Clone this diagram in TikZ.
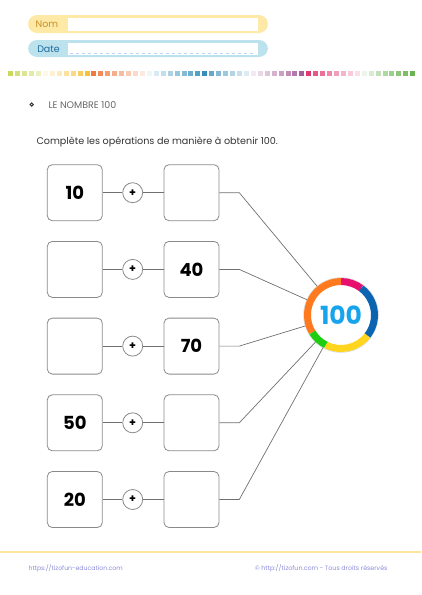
\documentclass[tikz,border=0pt]{standalone}
\usepackage{fontspec}
\setmainfont{Poppins}
\definecolor{boxgray}{HTML}{8A8A8A}
\definecolor{linegray}{HTML}{707070}
\definecolor{nomfill}{HTML}{FFE9A6}
\definecolor{nomtext}{HTML}{C89028}
\definecolor{datefill}{HTML}{BCE2EE}
\definecolor{datetext}{HTML}{1C6C9C}
\definecolor{footline}{HTML}{FFE49C}
\definecolor{foottext}{HTML}{8C8CD8}
\definecolor{ringpink}{HTML}{E8106E}
\definecolor{ringblue}{HTML}{0A64B0}
\definecolor{ringyellow}{HTML}{FFD51E}
\definecolor{ringgreen}{HTML}{1ECC10}
\definecolor{ringorange}{HTML}{FF7A1E}
\definecolor{hundredblue}{HTML}{18A4EC}
\definecolor{sqlime}{HTML}{B8CC28}
\definecolor{sqgold}{HTML}{F8B820}
\definecolor{sqorange}{HTML}{EE6A2A}
\definecolor{sqblue}{HTML}{2A88B8}
\definecolor{sqpurple}{HTML}{9A4A8C}
\definecolor{sqpink}{HTML}{E02868}
\definecolor{sqgreen}{HTML}{58AC3C}

\begin{document}
\begin{tikzpicture}[x=1pt, y=-1pt,
    numbox/.style={draw=boxgray, line width=0.8pt, rounded corners=5pt,
      minimum width=55pt, minimum height=56pt,
      font=\bfseries\fontsize{18}{18}\selectfont},
    plusdot/.style={circle, draw=boxgray, line width=0.8pt, minimum size=20pt,
      inner sep=0pt, font=\bfseries\fontsize{11}{11}\selectfont},
    link/.style={draw=linegray, line width=0.7pt}]
  \useasboundingbox (0,0) rectangle (421,595);

  % Name and date fields
  \fill[nomfill, rounded corners=9pt] (28,15) rectangle (268,33);
  \fill[white] (68,18) rectangle (258,31);
  \node[text=nomtext, font=\fontsize{9.5}{9.5}\selectfont] (nom) at (47,24.5) {Nom};
  \fill[datefill, rounded corners=9pt] (28,40) rectangle (268,57);
  \fill[white] (68,42.5) rectangle (258,54.5);
  \draw[datefill!80!blue!60, dashed, line width=0.4pt] (70,53) -- (256,53);
  \node[text=datetext, font=\fontsize{9.5}{9.5}\selectfont] (date) at (48.5,49) {Date};

  % Row of coloured squares
  \foreach \c [count=\i from 0] in {sqlime!75, sqlime!62, sqlime!50, sqlime!40, sqlime!30,
      sqgold!10, sqgold!20, sqgold!30, sqgold!42, sqgold!55, sqgold!70, sqgold!88,
      sqorange!90, sqorange!78, sqorange!66, sqorange!55, sqorange!45, sqorange!35, sqorange!25, sqorange!15,
      sqblue!8, sqblue!18, sqblue!28, sqblue!38, sqblue!48, sqblue!58, sqblue!68, sqblue!80, sqblue!95,
      sqblue!72, sqblue!58, sqblue!46, sqblue!36, sqblue!26, sqblue!16,
      sqpurple!12, sqpurple!22, sqpurple!32, sqpurple!42, sqpurple!52, sqpurple!62, sqpurple!74, sqpurple!88,
      sqpink!92, sqpink!78, sqpink!66, sqpink!55, sqpink!45, sqpink!35, sqpink!25, sqpink!15,
      sqgreen!12, sqgreen!24, sqgreen!36, sqgreen!48, sqgreen!58, sqgreen!68, sqgreen!78, sqgreen!90}
    \fill[\c] (8.3+6.93*\i,71) rectangle ++(5,5);

  % Title and instruction
  \fill[black!80] (31.7,102.2) -- (34,104.5) -- (31.7,106.8) -- (29.4,104.5) -- cycle;
  \fill[white] (31.7,104.5) circle (0.6);
  \node[anchor=west, text=black!60, font=\fontsize{9.5}{9.5}\selectfont] (title) at (45,104.7) {LE NOMBRE 100};
  \node[anchor=west, text=black!80, font=\fontsize{9.6}{9.6}\selectfont] (task) at (33,142) {Complète les opérations de manière à obtenir 100.};

  % Target circle
  \node[circle, minimum size=74pt, inner sep=0pt, text=hundredblue,
    font=\bfseries\fontsize{25}{25}\selectfont] (hundred) at (341,315) {100};
  \draw[black!15, line width=0.8pt] (hundred.center) circle (37.3);
  \draw[ringpink, line width=7pt] (hundred.center) ++(-90:33.5) arc[start angle=-90, end angle=-53, radius=33.5];
  \draw[ringblue, line width=7pt] (hundred.center) ++(-53:33.5) arc[start angle=-53, end angle=38, radius=33.5];
  \draw[ringyellow, line width=7pt] (hundred.center) ++(38:33.5) arc[start angle=38, end angle=117, radius=33.5];
  \draw[ringgreen, line width=7pt] (hundred.center) ++(117:33.5) arc[start angle=117, end angle=149, radius=33.5];
  \draw[ringorange, line width=7pt] (hundred.center) ++(149:33.5) arc[start angle=149, end angle=270, radius=33.5];

  % Additions, one per row
  \foreach \i/\a/\b in {1/10/, 2//40, 3//70, 4/50/, 5/20/} {
    \node[numbox] (left\i) at (74.8,{192.7+76.7*(\i-1)}) {\a};
    \node[plusdot] (plus\i) at (132.7,{192.7+76.7*(\i-1)}) {+};
    \node[numbox] (right\i) at (191.5,{192.7+76.7*(\i-1)}) {\b};
    \coordinate (bend\i) at (239.3,{192.7+76.7*(\i-1)});
    \draw[link] (left\i) -- (plus\i);
    \draw[link] (plus\i) -- (right\i);
    \draw[link] (right\i) -- (bend\i) -- (hundred);
  }

  % Footer
  \draw[footline, line width=1.5pt] (0,552) -- (421,552);
  \node[anchor=west, text=foottext, font=\fontsize{6.2}{6.2}\selectfont] (site) at (25,568.3) {https://tizofun-education.com};
  \node[anchor=east, text=foottext, font=\fontsize{6.3}{6.3}\selectfont] (rights) at (391,568.3) {© http://tizofun.com - Tous droits réservés};
\end{tikzpicture}
\end{document}
